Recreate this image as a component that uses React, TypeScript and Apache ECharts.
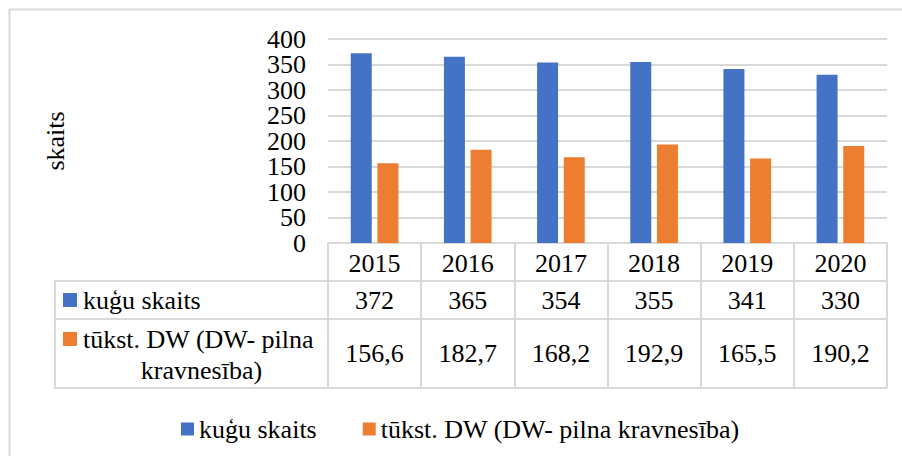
import React, { useEffect, useRef } from "react";
import * as echarts from "echarts";

const years = ["2015", "2016", "2017", "2018", "2019", "2020"];
const kuguSkaits = [372, 365, 354, 355, 341, 330];
const tukstDW = [156.6, 182.7, 168.2, 192.9, 165.5, 190.2];
const seriesNames = ["kuģu skaits", "tūkst. DW (DW- pilna kravnesība)"];
const yTicks = { min: 0, max: 400, interval: 50 };

const FONT = "Liberation Serif";
const BLUE = "#4472C4";
const ORANGE = "#ED7D31";
const GRAY = "#d9d9d9";

const GRID = { left: 328, right: 15, top: 39, bottom: 213 };
const ROW_Y = [243, 281, 319, 388];
const TABLE_LEFT = 55;

export default function App() {
  const ref = useRef<HTMLDivElement>(null);
  useEffect(() => {
    if (!ref.current) return;
    const chart = echarts.init(ref.current, null, { renderer: "svg" });
    const fmt = (v: number) => v.toFixed(1).replace(".", ",");
    const axisCommon = {
      type: "category" as const,
      position: "bottom" as const,
      boundaryGap: true,
      axisLine: { show: true, onZero: false, lineStyle: { color: GRAY, width: 2 } },
      axisTick: { show: true, inside: false, lineStyle: { color: GRAY, width: 2 } },
      splitLine: { show: false },
    };
    const labelCommon = {
      interval: 0,
      color: "#000",
      fontFamily: FONT,
      fontSize: 26,
      verticalAlign: "middle" as const,
      hideOverlap: false,
    };
    const yLabel = {
      color: "#000",
      fontFamily: FONT,
      fontSize: 26,
      margin: 22,
      hideOverlap: false,
    };
    const right = 902 - GRID.right;
    const txt = (text: string, x: number, y: number, align: string) => ({
      type: "text",
      x,
      y,
      style: { text, fill: "#000", fontFamily: FONT, fontSize: 26, verticalAlign: "middle", align },
    });
    chart.setOption({
      animation: false,
      backgroundColor: "#fff",
      textStyle: { fontFamily: FONT },
      grid: { ...GRID, containLabel: false },
      xAxis: [
        {
          ...axisCommon,
          data: years,
          offset: 0,
          axisTick: { ...axisCommon.axisTick, length: ROW_Y[1] - ROW_Y[0] },
          axisLabel: { ...labelCommon, margin: 20 },
        },
        {
          ...axisCommon,
          data: kuguSkaits.map(String),
          offset: ROW_Y[1] - ROW_Y[0],
          axisTick: { ...axisCommon.axisTick, length: ROW_Y[2] - ROW_Y[1] },
          axisLabel: { ...labelCommon, margin: 19 },
        },
        {
          ...axisCommon,
          data: tukstDW.map(fmt),
          offset: ROW_Y[2] - ROW_Y[0],
          axisTick: { ...axisCommon.axisTick, length: ROW_Y[3] - ROW_Y[2] },
          axisLabel: { ...labelCommon, margin: 34 },
        },
      ],
      yAxis: [
        {
          type: "value",
          ...yTicks,
          position: "left",
          name: "skaits",
          nameLocation: "middle",
          nameGap: 260,
          nameRotate: 90,
          nameTextStyle: { color: "#000", fontFamily: FONT, fontSize: 26 },
          axisLine: { show: false, onZero: false },
          axisTick: { show: false },
          axisLabel: { ...yLabel, showMinLabel: false, showMaxLabel: false },
          splitLine: { lineStyle: { color: GRAY, width: 2 } },
        },
        {
          type: "value",
          ...yTicks,
          position: "left",
          offset: 0,
          axisLine: { show: false, onZero: false },
          axisTick: { show: false },
          splitLine: { show: false },
          axisLabel: {
            ...yLabel,
            showMinLabel: true,
            showMaxLabel: true,
            formatter: (v: number) => (v === yTicks.min || v === yTicks.max ? String(v) : ""),
          },
        },
      ],
      legend: {
        data: seriesNames,
        left: 176,
        top: 411,
        icon: "rect",
        itemWidth: 13,
        itemHeight: 13,
        itemGap: 46,
        textStyle: { color: "#000", fontFamily: FONT, fontSize: 26 },
      },
      graphic: [
        {
          type: "rect",
          silent: true,
          shape: { x: 9.5, y: 9.5, width: 1000, height: 1000 },
          style: { fill: "none", stroke: GRAY, lineWidth: 2 },
        },
        { type: "line", shape: { x1: TABLE_LEFT, y1: ROW_Y[1], x2: GRID.left, y2: ROW_Y[1] }, style: { stroke: GRAY, lineWidth: 2 } },
        { type: "line", shape: { x1: TABLE_LEFT, y1: ROW_Y[2], x2: GRID.left, y2: ROW_Y[2] }, style: { stroke: GRAY, lineWidth: 2 } },
        { type: "line", shape: { x1: TABLE_LEFT, y1: ROW_Y[3], x2: right, y2: ROW_Y[3] }, style: { stroke: GRAY, lineWidth: 2 } },
        { type: "line", shape: { x1: TABLE_LEFT, y1: ROW_Y[1] - 1, x2: TABLE_LEFT, y2: ROW_Y[3] + 1 }, style: { stroke: GRAY, lineWidth: 2 } },
        { type: "rect", shape: { x: 63, y: 293, width: 14, height: 14 }, style: { fill: BLUE } },
        txt(seriesNames[0], 83, 300, "left"),
        { type: "rect", shape: { x: 63, y: 332, width: 14, height: 14 }, style: { fill: ORANGE } },
        txt("tūkst. DW (DW- pilna", 83, 339, "left"),
        txt("kravnesība)", 201.5, 370, "center"),
      ],
      series: [
        {
          name: seriesNames[0],
          type: "bar",
          xAxisIndex: 0,
          yAxisIndex: 0,
          data: kuguSkaits,
          barWidth: 21,
          barGap: "27%",
          itemStyle: { color: BLUE },
        },
        {
          name: seriesNames[1],
          type: "bar",
          xAxisIndex: 0,
          yAxisIndex: 0,
          data: tukstDW,
          barWidth: 21,
          barGap: "27%",
          itemStyle: { color: ORANGE },
        },
      ],
    });
    return () => chart.dispose();
  }, []);
  return (
    <div
      ref={ref}
      style={{ position: "fixed", left: 0, top: 0, width: 902, height: 456 }}
    />
  );
}
